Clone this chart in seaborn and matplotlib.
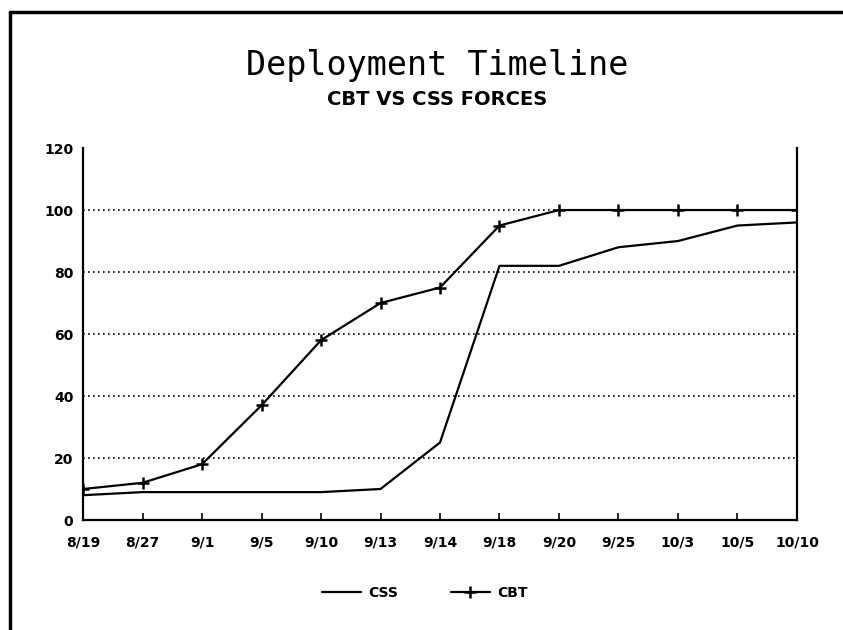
import pandas as pd
import numpy as np
import seaborn as sns
import matplotlib.pyplot as plt
from matplotlib.lines import Line2D

# veriler
dates = ["8/19", "8/27", "9/1", "9/5", "9/10", "9/13", "9/14",
         "9/18", "9/20", "9/25", "10/3", "10/5", "10/10"]
css = [8, 9, 9, 9, 9, 10, 25, 82, 82, 88, 90, 95, 96]
cbt = [10, 12, 18, 37, 58, 70, 75, 95, 100, 100, 100, 100, 100]

df = pd.DataFrame({"pos": np.arange(len(dates)), "CSS": css, "CBT": cbt})
df_long = df.melt(id_vars="pos", var_name="force", value_name="pct")

sns.set_style("white")
plt.rcParams["font.family"] = ["DejaVu Sans"]
plt.rcParams["text.color"] = "black"
plt.rcParams["xtick.color"] = "black"
plt.rcParams["ytick.color"] = "black"

fig = plt.figure(figsize=(8.43, 6.3), dpi=100)
ax = fig.add_axes([0.0985, 0.1746, 0.8469, 0.5904])

sns.lineplot(data=df_long, x="pos", y="pct", style="force",
             markers={"CSS": "", "CBT": "+"}, dashes=False,
             color="black", linewidth=1.6, markersize=8, mew=1.8,
             markeredgecolor="black", legend=False, ax=ax)

ax.set_xlim(0, len(dates) - 1)
ax.set_ylim(0, 120)
ax.set_yticks(range(0, 121, 20))
ax.set_xticks(df["pos"])
ax.set_xticklabels(dates)
ax.set_xlabel("")
ax.set_ylabel("")
for lab in ax.get_xticklabels() + ax.get_yticklabels():
    lab.set_fontweight("bold")
    lab.set_fontsize(10)
    lab.set_color("black")

for y in range(20, 101, 20):
    ax.axhline(y, color="black", linestyle=(0, (1, 2)), linewidth=1.2, zorder=0)

ax.tick_params(axis="x", direction="in", length=5, width=1.2, pad=11, bottom=True)
ax.tick_params(axis="y", direction="out", length=0, pad=7, left=True)
for s in ["left", "bottom", "right"]:
    ax.spines[s].set_color("black")
    ax.spines[s].set_linewidth(1.6)
ax.spines["top"].set_visible(False)

fig.text(0.519, 1 - 75 / 630, "Deployment Timeline", ha="center", va="baseline",
         fontsize=24, family="DejaVu Sans Mono", color="black")
fig.text(0.519, 1 - 105 / 630, "CBT VS CSS FORCES", ha="center", va="baseline",
         fontsize=14, fontweight="bold", color="black")

handles = [Line2D([], [], color="black", linewidth=1.6, label="CSS"),
           Line2D([], [], color="black", linewidth=1.6, marker="+",
                  markersize=8, mew=1.8, label="CBT")]
leg = fig.legend(handles=handles, loc="center", bbox_to_anchor=(0.504, 0.059),
                 ncol=2, frameon=False, handlelength=2.8, handletextpad=0.5,
                 columnspacing=3.8, prop={"weight": "bold", "size": 10})
for t in leg.get_texts():
    t.set_color("black")

# sayfa kenarı çizgileri (sol ve üst)
fig.add_artist(Line2D([0.012, 0.012], [0, 0.981], color="black", linewidth=2.5,
                      transform=fig.transFigure))
fig.add_artist(Line2D([0.012, 1.0], [0.981, 0.981], color="black", linewidth=2.5,
                      transform=fig.transFigure))

fig.savefig("out.png", dpi=100)
